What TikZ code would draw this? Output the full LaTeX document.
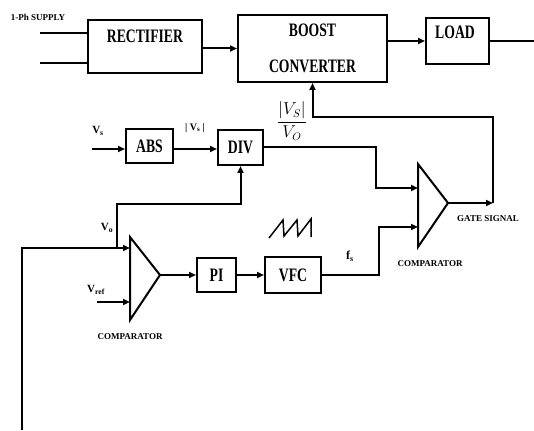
\documentclass[tikz,border=0pt]{standalone}
\usepackage{fontspec}
\setmainfont{Liberation Serif}
\usetikzlibrary{arrows.meta,calc}
\newcommand\nrw[1]{\scalebox{0.72}[1]{#1}}
\begin{document}
\begin{tikzpicture}[x=1pt,y=-1pt,
  line width=2pt,
  blk/.style={draw,rectangle,line width=2pt,inner sep=0pt,font=\fontsize{19}{36}\selectfont\bfseries},
  blktext/.style={inner sep=0pt,font=\fontsize{19}{36}\selectfont\bfseries},
  arr/.style={-{Triangle[length=7pt,width=6pt]}},
  lbl/.style={font=\fontsize{9}{10}\selectfont\bfseries,inner sep=0pt},
  sig/.style={font=\fontsize{11}{12}\selectfont\bfseries,inner sep=0pt}]
\useasboundingbox (0,0) rectangle (534,430);
% blocks
\node[blk,minimum width=114pt,minimum height=53pt] (rect) at (145,46.5) {};
\node[blktext] (rectT) at (145,36) {\nrw{RECTIFIER}};
\node[blk,minimum width=149pt,minimum height=67pt,align=center] (boost) at (312.5,48.5) {\nrw{BOOST}\\\nrw{CONVERTER}};
\node[blk,minimum width=63pt,minimum height=46pt] (load) at (457.5,41) {};
\node[blktext] (loadT) at (455,32) {\nrw{LOAD}};
\node[blk,minimum width=47pt,minimum height=34pt] (abs) at (149.5,146) {\nrw{ABS}};
\node[blk,minimum width=45pt,minimum height=35pt] (div) at (240.5,147.5) {\nrw{DIV}};
\node[blk,minimum width=39pt,minimum height=34pt] (pi) at (216.5,275) {\nrw{PI}};
\node[blk,minimum width=56pt,minimum height=36pt] (vfc) at (293,275) {\nrw{VFC}};
% comparators
\coordinate (c1a) at (130,237); \coordinate (c1b) at (130,320); \coordinate (c1out) at (160,275);
\draw[line join=miter] (c1a) -- (c1out) -- (c1b) -- cycle;
\coordinate (c1in1) at (130,248); \coordinate (c1in2) at (130,302);
\coordinate (c2a) at (418,164); \coordinate (c2b) at (418,247); \coordinate (c2out) at (448,203);
\draw[line join=miter] (c2a) -- (c2out) -- (c2b) -- cycle;
\coordinate (c2in1) at (418,188); \coordinate (c2in2) at (418,227);
% supply
\coordinate (s1) at (40,33); \coordinate (s2) at (40,63);
\draw (s1) -- (s1 -| rect.west);
\draw (s2) -- (s2 -| rect.west);
\draw[arr] (rect.east |- boost.west) -- (boost.west);
\draw[arr] (boost.east |- load.west) -- (load.west);
\coordinate (out) at (534,41);
\draw (load.east) -- (out);
% gate feedback
\coordinate (g) at (493,203); \coordinate (fb) at (493,117);
\draw[arr] (c2out) -- (g);
\draw[arr] (g) -- (fb) -| (boost.south);
% div / vfc to comparator 2
\draw[arr] (div.east) -- ++(112,0) |- (c2in1);
\draw[arr] (vfc.east) -- ++(57,0) |- (c2in2);
% abs chain
\coordinate (vs) at (92,149);
\draw[arr] (vs) -- (vs -| abs.west);
\draw[arr] (abs.east |- vs) -- (div.west |- vs);
% vo
\coordinate (bot) at (22,430); \coordinate (j) at (117,248); \coordinate (k) at (117,204);
\draw[arr] (bot) |- (c1in1);
\draw[arr] (j) -- (k) -| (div.south);
\coordinate (vr) at (97,302);
\draw[arr] (vr) -- (c1in2);
\draw[arr] (c1out) -- (pi.west);
\draw[arr] (pi.east) -- (vfc.west);
% sawtooth
\draw[line width=1.5pt,line join=miter] (269,238) -- (283,220) -- (284,236) -- (297,220) -- (298,236) -- (311,219) -- (311,237);
% labels
\node[lbl] (sup) at (38,17) {1-Ph SUPPLY};
\node[sig] (lvs) at (98,131) {V\textsubscript{s}};
\node[sig,font=\fontsize{10}{11}\selectfont\bfseries] (lavs) at (195,128) {| V\textsubscript{s} |};
\node[sig] (lvo) at (107,228) {V\textsubscript{o}};
\node[sig] (lvr) at (96,290) {V\textsubscript{ref}};
\node[font=\fontsize{12}{13}\selectfont\bfseries,inner sep=0pt] (lfs) at (350,256) {f\textsubscript{s}};
\node[inner sep=0pt,font=\fontsize{16}{17}\selectfont] (frac) at (292,121) {$\displaystyle\frac{|V_S|}{V_O}$};
\node[lbl] (cmp1) at (130,337) {COMPARATOR};
\node[lbl] (cmp2) at (430,264) {COMPARATOR};
\node[lbl] (gate) at (488,219) {GATE SIGNAL};
\end{tikzpicture}
\end{document}
